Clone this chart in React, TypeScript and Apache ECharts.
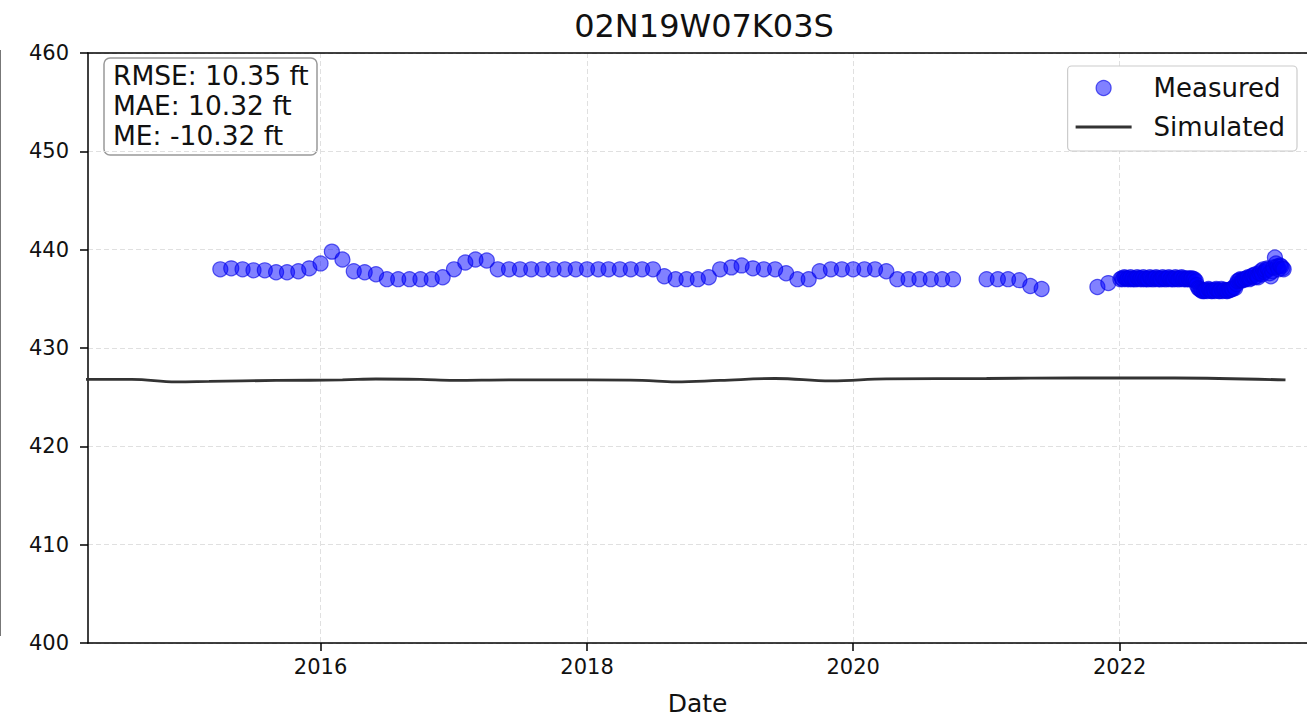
import React, { useEffect, useRef } from "react";
import * as echarts from "echarts";

const FONT = "DejaVu Sans";

const title = "02N19W07K03S";
const statLines = ["RMSE: 10.35 ft", "MAE: 10.32 ft", "ME: -10.32 ft"];
const xTickYears = ["2016-01-01", "2018-01-01", "2020-01-01", "2022-01-01"];
const yTicks = { min: 400, max: 460, step: 10 };
const xRange = ["2014-04-03", "2023-05-30"];

// Measured (monthly, then dense)
const measuredDates = [
  "2015-04-01", "2015-05-01", "2015-06-01", "2015-07-01", "2015-08-01", "2015-09-01",
  "2015-10-01", "2015-11-01", "2015-12-01", "2016-01-01", "2016-02-01", "2016-03-01",
  "2016-04-01", "2016-05-01", "2016-06-01", "2016-07-01", "2016-08-01", "2016-09-01",
  "2016-10-01", "2016-11-01", "2016-12-01", "2017-01-01", "2017-02-01", "2017-03-01",
  "2017-04-01", "2017-05-01", "2017-06-01", "2017-07-01", "2017-08-01", "2017-09-01",
  "2017-10-01", "2017-11-01", "2017-12-01", "2018-01-01", "2018-02-01", "2018-03-01",
  "2018-04-01", "2018-05-01", "2018-06-01", "2018-07-01", "2018-08-01", "2018-09-01",
  "2018-10-01", "2018-11-01", "2018-12-01", "2019-01-01", "2019-02-01", "2019-03-01",
  "2019-04-01", "2019-05-01", "2019-06-01", "2019-07-01", "2019-08-01", "2019-09-01",
  "2019-10-01", "2019-11-01", "2019-12-01", "2020-01-01", "2020-02-01", "2020-03-01",
  "2020-04-01", "2020-05-01", "2020-06-01", "2020-07-01", "2020-08-01", "2020-09-01",
  "2020-10-01",
  "2021-01-01", "2021-02-01", "2021-03-01", "2021-04-01", "2021-05-01", "2021-06-01",
  "2021-11-01", "2021-12-01",
  "2022-01-03", "2022-01-07", "2022-01-10", "2022-01-14", "2022-01-17", "2022-01-21",
  "2022-01-24", "2022-01-28", "2022-01-31", "2022-02-04", "2022-02-07", "2022-02-11",
  "2022-02-14", "2022-02-18", "2022-02-21", "2022-02-25", "2022-02-28", "2022-03-04",
  "2022-03-07", "2022-03-11", "2022-03-14", "2022-03-18", "2022-03-21", "2022-03-25",
  "2022-03-28", "2022-04-01", "2022-04-04", "2022-04-08", "2022-04-11", "2022-04-15",
  "2022-04-18", "2022-04-22", "2022-04-25", "2022-04-29", "2022-05-02", "2022-05-06",
  "2022-05-09", "2022-05-13", "2022-05-16", "2022-05-20", "2022-05-23", "2022-05-27",
  "2022-05-30", "2022-06-03", "2022-06-06", "2022-06-10", "2022-06-13", "2022-06-17",
  "2022-06-20", "2022-06-24", "2022-06-27", "2022-07-01", "2022-07-04", "2022-07-08",
  "2022-07-11", "2022-07-15", "2022-07-18", "2022-07-22", "2022-07-25", "2022-07-29",
  "2022-08-01", "2022-08-05", "2022-08-08", "2022-08-12", "2022-08-15", "2022-08-19",
  "2022-08-22", "2022-08-26", "2022-08-29", "2022-09-02", "2022-09-05", "2022-09-09",
  "2022-09-12", "2022-09-16", "2022-09-19", "2022-09-23", "2022-09-26", "2022-09-30",
  "2022-10-03", "2022-10-07", "2022-10-10", "2022-10-14", "2022-10-17", "2022-10-21",
  "2022-10-24", "2022-10-28", "2022-10-31", "2022-11-04", "2022-11-07", "2022-11-11",
  "2022-11-14", "2022-11-18", "2022-11-21", "2022-11-25", "2022-11-28", "2022-12-02",
  "2022-12-05", "2022-12-09", "2022-12-12", "2022-12-16", "2022-12-19", "2022-12-23",
  "2022-12-26", "2022-12-30", "2023-01-02", "2023-01-06", "2023-01-09", "2023-01-13",
  "2023-01-16", "2023-01-20", "2023-01-23", "2023-01-27", "2023-01-30", "2023-02-03",
  "2023-02-06", "2023-02-10", "2023-02-13", "2023-02-17", "2023-02-20", "2023-02-24",
  "2023-02-27", "2023-03-03", "2023-03-06", "2023-03-10", "2023-03-13", "2023-03-17",
  "2023-03-20", "2023-03-24", "2023-03-27",
];
const measuredValues = [
  438.0, 438.1, 438.0, 437.9, 437.9, 437.7,
  437.7, 437.8, 438.1, 438.6, 439.8, 439.0,
  437.8, 437.7, 437.5, 437.0, 437.0, 437.0,
  437.0, 437.0, 437.2, 438.0, 438.7, 439.0,
  438.9, 438.0, 438.0, 438.0, 438.0, 438.0,
  438.0, 438.0, 438.0, 438.0, 438.0, 438.0,
  438.0, 438.0, 438.0, 438.0, 437.3, 437.0,
  437.0, 437.0, 437.2, 438.0, 438.2, 438.4,
  438.1, 438.0, 438.0, 437.6, 437.0, 437.0,
  437.8, 438.0, 438.0, 438.0, 438.0, 438.0,
  437.8, 437.0, 437.0, 437.0, 437.0, 437.0,
  437.0,
  437.0, 437.0, 437.0, 436.9, 436.3, 436.0,
  436.2, 436.6,
  437.0, 437.1, 437.0, 437.2, 437.1, 437.0,
  437.1, 437.0, 437.2, 437.0, 437.1, 437.0,
  437.0, 437.2, 437.1, 437.0, 437.1, 437.0,
  437.2, 437.0, 437.1, 437.0, 437.0, 437.2,
  437.1, 437.0, 437.0, 437.1, 437.2, 437.0,
  437.1, 437.0, 437.0, 437.2, 437.1, 437.0,
  437.0, 437.1, 437.2, 437.0, 437.1, 437.0,
  437.0, 437.2, 437.1, 437.0, 437.0, 437.1,
  437.2, 437.0, 437.1, 437.0, 437.0, 437.1,
  437.0, 437.0, 437.1, 437.0, 437.0, 436.8,
  436.4, 436.1, 436.0, 435.9, 435.8, 435.8,
  435.8, 435.9, 435.8, 436.0, 435.9, 435.8,
  435.8, 435.9, 435.8, 436.0, 435.9, 435.8,
  435.8, 436.0, 435.8, 435.9, 435.9, 435.8,
  435.8, 435.9, 435.9, 436.0, 436.0, 436.2,
  436.1, 436.5, 436.8, 436.9, 437.0, 436.9,
  436.9, 437.0, 437.0, 437.1, 437.2, 437.0,
  437.1, 437.3, 437.4, 437.2, 437.5, 437.3,
  437.2, 437.6, 437.8, 437.5, 438.0, 437.7,
  437.9, 438.1, 438.0, 437.6, 437.3, 437.8,
  438.2, 439.2, 438.6, 438.3, 438.0, 438.4,
  438.3, 438.1, 438.0,
];

// Simulated
const simulatedDates = [
  "2014-03-01", "2014-08-01", "2014-12-01", "2015-03-01", "2015-09-01", "2016-03-01",
  "2016-06-01", "2016-10-01", "2017-01-01", "2017-06-01", "2018-01-01", "2018-06-01",
  "2018-09-01", "2019-01-01", "2019-06-01", "2019-11-01", "2020-04-01", "2021-01-01",
  "2021-09-01", "2022-06-01", "2023-04-01",
];
const simulatedValues = [
  426.8, 426.8, 426.55, 426.6, 426.7, 426.75,
  426.85, 426.8, 426.7, 426.75, 426.75, 426.7,
  426.55, 426.7, 426.9, 426.65, 426.85, 426.9,
  426.95, 426.95, 426.75,
];

const t = (d: string) => Date.parse(d + "T00:00:00Z");

export default function App() {
  const ref = useRef<HTMLDivElement>(null);
  useEffect(() => {
    document.body.style.margin = "0";
    if (!ref.current) return;
    const chart = echarts.init(ref.current, undefined, { renderer: "svg" });
    const measured = measuredDates.map((d, i) => [t(d), measuredValues[i]]);
    const simulated = simulatedDates.map((d, i) => [t(d), simulatedValues[i]]);
    const blue = "rgba(0,0,255,0.62)";
    const edge = "rgba(0,0,230,0.8)";
    const xMin = t(xRange[0]);
    const xMax = t(xRange[1]);
    chart.setOption({
      animation: false,
      textStyle: { fontFamily: FONT },
      title: {
        text: title,
        left: 699,
        top: 5,
        textAlign: "center",
        textStyle: { fontFamily: FONT, fontSize: 32, fontWeight: "normal", color: "#111" },
      },
      grid: {
        left: 88,
        right: -3,
        top: 53,
        bottom: 80,
        show: false,
      },
      legend: {
        orient: "vertical",
        right: 10,
        top: 66,
        itemWidth: 56,
        itemHeight: 15,
        itemGap: 13,
        padding: [9, 12, 11, 8],
        backgroundColor: "#fff",
        borderColor: "#ccc",
        borderWidth: 1.2,
        borderRadius: 4,
        textStyle: { fontFamily: FONT, fontSize: 26, color: "#111", padding: [0, 0, 0, 17] },
        data: [
          {
            name: "Measured",
            icon: "circle",
            itemStyle: { color: blue, borderColor: edge, borderWidth: 1.2 },
          },
          {
            name: "Simulated",
            icon: "path://M0,0H56V3H0Z",
            itemStyle: { color: "#333" },
          },
        ],
      },
      xAxis: [
        {
          type: "value",
          min: xMin,
          max: xMax,
          name: "Date",
          nameLocation: "middle",
          nameGap: 48,
          nameTextStyle: { fontFamily: FONT, fontSize: 25, color: "#111" },
          axisLine: { show: true, lineStyle: { color: "#000", width: 1.5 } },
          axisTick: {
            show: true,
            length: 8,
            lineStyle: { color: "#000", width: 1.5 },
            customValues: xTickYears.map(t),
          },
          axisLabel: {
            fontFamily: FONT,
            fontSize: 21,
            color: "#111",
            margin: 13,
            customValues: xTickYears.map(t),
            formatter: (v: number) => String(new Date(v).getUTCFullYear()),
          },
          splitLine: {
            show: true,
            lineStyle: { color: "#e0e0e0", type: [5, 3], width: 1 },
          },
        },
        {
          type: "value",
          position: "top",
          min: xMin,
          max: xMax,
          axisLine: { show: true, onZero: false, lineStyle: { color: "#000", width: 1.5 } },
          axisTick: { show: false },
          axisLabel: { show: false },
          splitLine: { show: false },
        },
      ],
      yAxis: {
        type: "value",
        min: yTicks.min,
        max: yTicks.max,
        interval: yTicks.step,
        axisLine: { show: true, lineStyle: { color: "#000", width: 1.5 } },
        axisTick: { show: true, length: 8, lineStyle: { color: "#000", width: 1.5 } },
        axisLabel: { fontFamily: FONT, fontSize: 21, color: "#111", margin: 19 },
        splitLine: { show: true, lineStyle: { color: "#e0e0e0", type: [5, 3], width: 1 } },
      },
      series: [
        {
          name: "Simulated",
          type: "line",
          data: simulated,
          smooth: 0.4,
          showSymbol: false,
          symbol: "none",
          clip: true,
          lineStyle: { color: "#333", width: 2.8 },
          itemStyle: { color: "#333" },
          z: 2,
        },
        {
          name: "Measured",
          type: "scatter",
          data: measured,
          symbol: "circle",
          symbolSize: 15,
          itemStyle: { color: blue, borderColor: edge, borderWidth: 1.2 },
          z: 3,
        },
      ],
      graphic: [
        {
          type: "line",
          shape: { x1: 0.5, y1: 50, x2: 0.5, y2: 636 },
          style: { stroke: "#777", lineWidth: 1 },
        },
        {
          type: "group",
          z: 100,
          children: [
            {
              type: "rect",
              shape: { x: 104, y: 58, width: 213, height: 97, r: 6 },
              style: { fill: "rgba(255,255,255,0.85)", stroke: "#999", lineWidth: 1.5 },
            },
            ...statLines.map((s, i) => ({
              type: "text",
              x: 113,
              y: 75 + i * 30,
              style: {
                text: s,
                fontFamily: FONT,
                fontSize: 26.5,
                fill: "#111",
                verticalAlign: "middle",
              },
            })),
          ],
        },
      ],
    });
    return () => chart.dispose();
  }, []);
  return <div ref={ref} style={{ width: 1307, height: 723 }} />;
}
